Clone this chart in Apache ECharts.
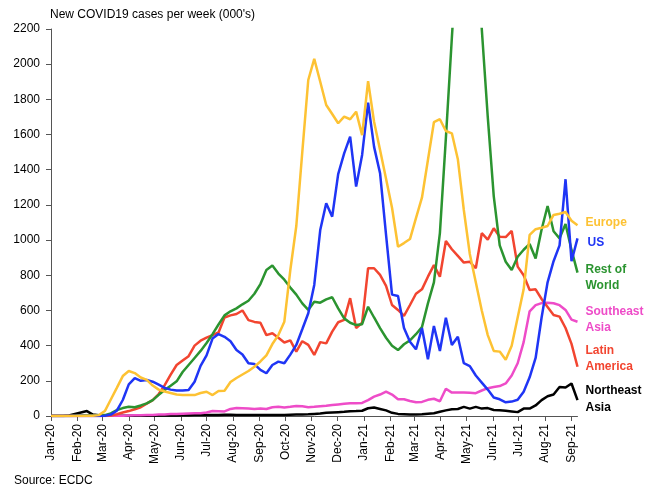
<!DOCTYPE html>
<html><head><meta charset="utf-8">
<script src="https://cdn.jsdelivr.net/npm/echarts@6/dist/echarts.min.js"></script>
<style>html,body{margin:0;padding:0;background:#fff}#c{width:647px;height:487px}</style>
</head><body><div id="c"></div>
<script>
// Month tick labels and their dates
const monthLabels = ['Jan-20','Feb-20','Mar-20','Apr-20','May-20','Jun-20','Jul-20','Aug-20','Sep-20','Oct-20','Nov-20','Dec-20',
  'Jan-21','Feb-21','Mar-21','Apr-21','May-21','Jun-21','Jul-21','Aug-21','Sep-21'];
const monthStarts = ['2020-01-01','2020-02-01','2020-03-01','2020-04-01','2020-05-01','2020-06-01','2020-07-01','2020-08-01','2020-09-01','2020-10-01','2020-11-01','2020-12-01',
  '2021-01-01','2021-02-01','2021-03-01','2021-04-01','2021-05-01','2021-06-01','2021-07-01','2021-08-01','2021-09-01'];
// weekly observations start on this date, one every 7 days
const firstWeek = '2020-01-01';
const weekCount = 89;

// New cases per week (000's)
const europe = [0,0,0,0,0,0,1,2,5,28,
  94,160,227,256,244,219,205,173,150,139,
  131,122,119,119,119,131,138,119,142,144,
  193,216,236,256,280,310,345,409,460,536,
  830,1080,1500,1910,2030,1900,1768,1717,1664,1702,
  1687,1730,1597,1904,1673,1512,1349,1184,962,983,
  1006,1125,1241,1455,1670,1687,1620,1607,1460,1171,
  921,760,600,460,370,366,320,400,560,720,
  1030,1062,1070,1080,1143,1150,1160,1110,1085];
const us = [0,0,0,0,0,0,0,0,0,2,
  8,30,91,180,215,200,205,195,178,160,
  150,145,145,148,195,285,345,440,466,450,
  425,375,350,300,295,262,243,290,309,300,
  349,404,493,584,745,1057,1209,1133,1375,1493,
  1588,1304,1484,1781,1530,1380,1030,690,682,500,
  422,379,500,322,512,370,559,404,451,300,
  284,230,190,150,105,95,78,82,92,138,
  220,330,560,760,880,970,1346,880,1010];
const restOfWorld = [0,0,0,0,1,2,3,3,4,5,
  15,34,45,53,50,60,72,90,120,148,
  172,197,250,290,330,370,415,465,520,572,
  595,612,635,655,695,750,830,855,810,775,
  730,690,640,603,650,644,663,675,612,555,
  530,517,522,621,560,500,445,400,375,408,
  430,465,505,640,760,1040,1580,2150,2700,3050,
  3100,2750,2200,1700,1250,970,877,830,905,945,
  978,895,1060,1194,1050,1010,1092,944,815];
const southeastAsia = [0,0,0,0,0,0,0,0,0,0,
  1,1,2,3,4,4,5,6,8,9,
  11,12,13,14,15,16,20,28,27,26,
  40,45,44,42,40,42,40,50,52,49,
  52,57,55,50,52,56,58,62,66,70,
  72,73,74,90,110,122,138,122,95,95,
  85,78,80,92,98,84,155,133,133,133,
  132,130,145,158,165,170,185,230,300,420,
  595,630,642,644,641,630,603,548,536];
const latinAmerica = [0,0,0,0,0,0,0,0,0,1,
  3,10,20,28,38,50,70,90,125,175,
  235,290,315,340,400,428,445,460,475,560,
  572,580,600,545,535,530,460,470,445,418,
  430,366,425,404,347,420,413,480,533,546,
  670,500,530,840,840,802,740,631,603,569,
  631,695,720,792,858,792,995,948,910,872,
  877,840,1039,1003,1067,1019,1017,1052,849,800,
  716,720,665,620,574,565,500,410,280];
const northeastAsia = [0,0,0,3,12,20,28,8,4,3,
  3,2,2,2,2,2,2,2,3,3,
  3,3,4,4,5,5,6,6,6,7,
  7,6,6,6,6,6,6,6,6,6,
  7,8,9,10,12,14,18,20,22,24,
  27,28,30,44,48,40,32,18,12,10,
  8,9,10,13,16,24,32,38,40,52,
  42,52,42,45,34,32,30,26,22,42,
  42,60,90,112,122,165,162,185,90];

const seriesNames = ['Europe','US','Rest of\nWorld','Southeast\nAsia','Latin\nAmerica','Northeast\nAsia'];
const seriesData = [europe, us, restOfWorld, southeastAsia, latinAmerica, northeastAsia];
const seriesColors = ['#FDC233','#1F35F5','#2B9430','#EE4CC8','#F24530','#000000'];
const labelOffsets = [[0,-2.5],[2,4.5],[0,5],[0,-2],[0,-8],[0,-1]];

function parseDay(s){const p=s.split('-').map(Number);return Date.UTC(p[0],p[1]-1,p[2]);}
const DAY = 86400000;
const w0 = parseDay(firstWeek);
const weeks = [];
for (let k=0;k<weekCount;k++){weeks.push(w0 + 7*k*DAY);}
const monthTs = monthStarts.map(parseDay);

const chart = echarts.init(document.getElementById('c'), null, {renderer:'canvas'});
const font = '"Liberation Sans", Arial, sans-serif';
const order = [5,3,4,2,1,0];
chart.setOption({
  animation:false,
  backgroundColor:'#ffffff',
  textStyle:{fontFamily:font},
  title:{text:"New COVID19 cases per week (000's)",left:50,top:9,padding:0,textStyle:{fontSize:12,fontWeight:'normal',color:'#000',fontFamily:font}},
  graphic:[{type:'text',left:14,top:475,style:{text:'Source: ECDC',fontSize:12,fill:'#000',fontFamily:font}}],
  grid:{left:51,right:69.5,top:29,bottom:71,containLabel:false,outerBoundsMode:'none'},
  xAxis:{type:'value',min:weeks[0],max:weeks[weekCount-1],
    axisLine:{show:true,lineStyle:{color:'#555',width:1}},
    axisTick:{show:true,length:5,customValues:monthTs,lineStyle:{color:'#555'}},
    axisLabel:{customValues:monthTs,rotate:90,fontSize:12,color:'#000',margin:8,fontFamily:font,
      formatter:function(v){const i=monthTs.indexOf(v);return i>=0?monthLabels[i]:'';}},
    splitLine:{show:false}},
  yAxis:{type:'value',min:0,max:2200,interval:200,
    axisLine:{show:true,lineStyle:{color:'#555',width:1}},
    axisTick:{show:true,length:5,lineStyle:{color:'#555'}},
    axisLabel:{fontSize:12,color:'#000',margin:11,fontFamily:font,formatter:function(v){return String(v);}},
    splitLine:{show:false}},
  series: order.map(function(i){
    const col = seriesColors[i];
    return {
      type:'line',name:seriesNames[i],showSymbol:false,symbol:'none',clip:true,
      lineStyle:{width:2.5,color:col},itemStyle:{color:col},
      data: seriesData[i].map(function(v,k){return [weeks[k],v];}),
      endLabel:{show:true,formatter:seriesNames[i],color:col,fontWeight:'bold',fontSize:12,lineHeight:16.5,
        fontFamily:font,distance:8,offset:labelOffsets[i],align:'left',verticalAlign:'middle'}
    };
  })
});
</script></body></html>
